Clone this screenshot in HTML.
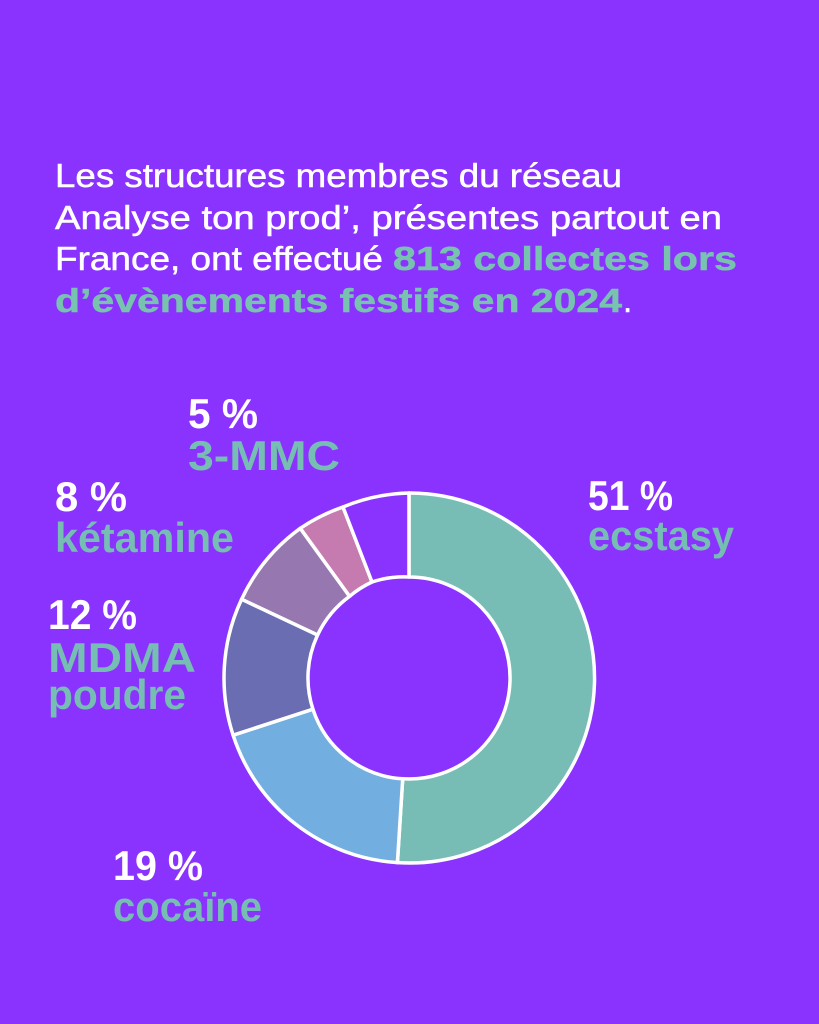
<!DOCTYPE html>
<html><head><meta charset="utf-8"><style>
html,body{margin:0;padding:0;background:#8a33fe;}
svg{display:block}
text{font-family:"Liberation Sans",sans-serif;}
.t{fill:#fff;font-size:33px;stroke:#fff;stroke-width:0.5;}
.g{fill:#78c2b0;stroke:#78c2b0;font-weight:bold;}
.p{fill:#fff;font-weight:bold;font-size:42px;}
.l{fill:#76bdb3;font-weight:bold;font-size:42px;}
</style></head><body>
<svg width="819" height="1024" viewBox="0 0 819 1024">
<rect width="819" height="1024" fill="#8a33fe"/>
<text class="t" x="55" y="187" textLength="567" lengthAdjust="spacingAndGlyphs">Les structures membres du réseau</text>
<text class="t" x="55" y="229" textLength="667" lengthAdjust="spacingAndGlyphs">Analyse ton prod’, présentes partout en</text>
<text class="t" x="55" y="270" textLength="328" lengthAdjust="spacingAndGlyphs">France, ont effectué</text>
<text class="t g" x="393" y="270" textLength="344" lengthAdjust="spacingAndGlyphs">813 collectes lors</text>
<text class="t g" x="55" y="312" textLength="567" lengthAdjust="spacingAndGlyphs">d’évènements festifs en 2024</text>
<text class="t" x="623" y="312">.</text>
<g stroke="#fff" stroke-width="3.5" stroke-linejoin="round">
<path d="M409 493 A185 185 0 1 1 397.4 862.6 L402.7 778.8 A101 101 0 1 0 409 577 Z" fill="#78bdb5"/>
<path d="M397.4 862.6 A185 185 0 0 1 233.1 735.2 L312.9 709.2 A101 101 0 0 0 402.7 778.8 Z" fill="#72aee0"/>
<path d="M233.1 735.2 A185 185 0 0 1 241.6 599.2 L317.6 635 A101 101 0 0 0 312.9 709.2 Z" fill="#6a6db2"/>
<path d="M241.6 599.2 A185 185 0 0 1 300.3 528.3 L349.6 596.3 A101 101 0 0 0 317.6 635 Z" fill="#9677b0"/>
<path d="M300.3 528.3 A185 185 0 0 1 343 507 L372 582 A101 101 0 0 0 349.6 596.3 Z" fill="#c57ab0"/>
<path d="M343 507 A185 185 0 0 1 409 493 L409 577 A101 101 0 0 0 372 582 Z" fill="#8a33fe"/>
</g>
<text class="p" x="188" y="428" textLength="70" lengthAdjust="spacingAndGlyphs">5 %</text>
<text class="l" x="188" y="470" textLength="152" lengthAdjust="spacingAndGlyphs">3-MMC</text>
<text class="p" x="55" y="511" textLength="72" lengthAdjust="spacingAndGlyphs">8 %</text>
<text class="l" x="55" y="552" textLength="179" lengthAdjust="spacingAndGlyphs">kétamine</text>
<text class="p" x="48" y="629" textLength="89" lengthAdjust="spacingAndGlyphs">12 %</text>
<text class="l" x="48" y="672" textLength="148" lengthAdjust="spacingAndGlyphs">MDMA</text>
<text class="l" x="48" y="709" textLength="138" lengthAdjust="spacingAndGlyphs">poudre</text>
<text class="p" x="588" y="510" textLength="85" lengthAdjust="spacingAndGlyphs">51 %</text>
<text class="l" x="588" y="550" textLength="146" lengthAdjust="spacingAndGlyphs">ecstasy</text>
<text class="p" x="113" y="880" textLength="90" lengthAdjust="spacingAndGlyphs">19 %</text>
<text class="l" x="113" y="921" textLength="149" lengthAdjust="spacingAndGlyphs">cocaïne</text>
</svg>
</body></html>
